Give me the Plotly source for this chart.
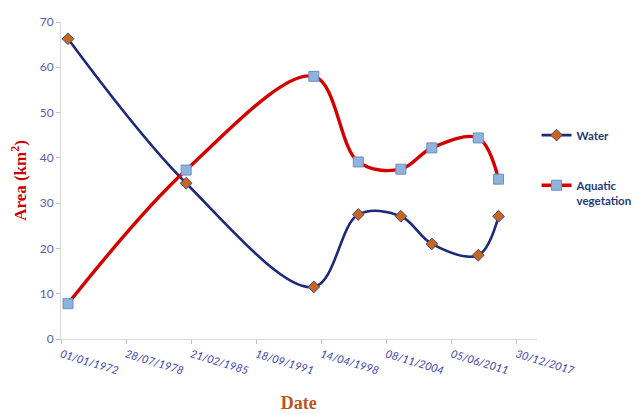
import plotly.graph_objects as go

dates = ["1972-09-15", "1984-08-20", "1997-07-10", "2002-01-05",
         "2006-04-25", "2009-06-10", "2014-02-15", "2016-03-05"]
water = [66.3, 34.4, 11.5, 27.5, 27.1, 21.0, 18.5, 27.1]
aquatic = [7.8, 37.3, 58.0, 39.1, 37.5, 42.2, 44.4, 35.3]

tick_start = "1972-01-01"
tick_step_days = 2400
x_end = "2020-01-05"

fig = go.Figure()
fig.add_trace(go.Scatter(
    x=dates, y=water, name="Water", mode="lines+markers",
    line=dict(color="#1c2a78", width=2.6, shape="spline", smoothing=1.0),
    marker=dict(symbol="diamond", size=9, color="#c9661c",
                line=dict(color="#3a4a8a", width=1)),
    legend="legend",
))
fig.add_trace(go.Scatter(
    x=dates, y=aquatic, name="Aquatic<br>vegetation", mode="lines+markers",
    line=dict(color="#d40000", width=3.4, shape="spline", smoothing=1.0),
    marker=dict(symbol="square", size=10, color="#8fb3dd",
                line=dict(color="#6d8fbf", width=1)),
    legend="legend2",
))

legfont = dict(family="Lato", size=11.5, color="#1f3a7a", weight="bold")
fig.update_layout(
    width=633, height=406,
    margin=dict(l=53, r=96, t=14, b=75),
    paper_bgcolor="white", plot_bgcolor="white",
    showlegend=True,
    legend=dict(xref="container", yref="container", x=0.835, y=0.687,
                xanchor="left", yanchor="middle",
                bgcolor="rgba(0,0,0,0)", font=legfont, itemwidth=30),
    legend2=dict(xref="container", yref="container", x=0.835, y=0.545,
                 xanchor="left", yanchor="middle", valign="top",
                 bgcolor="rgba(0,0,0,0)", font=legfont, itemwidth=30),
    xaxis=dict(
        type="date", automargin=False,
        range=[tick_start, x_end],
        tick0=tick_start, dtick=tick_step_days * 86400000,
        tickformat="%d/%m/%Y", tickangle=17,
        tickfont=dict(family="Lato", size=11, color="#4545b0", style="italic"),
        showline=True, linecolor="#d9d9d9", linewidth=1,
        ticks="outside", ticklen=4, tickcolor="#bfbfbf",
        showgrid=False, zeroline=False,
        title=dict(text="Date", standoff=20,
                   font=dict(family="Liberation Serif", size=18, color="#b8541c", weight="bold")),
    ),
    yaxis=dict(
        range=[0, 70], dtick=10, automargin=False,
        tickfont=dict(family="Lato", size=12, color="#5a5ab4"),
        showline=True, linecolor="#d9d9d9", linewidth=1,
        ticks="outside", ticklen=4, tickcolor="#bfbfbf",
        showgrid=False, zeroline=False,
        title=dict(text="Area (km<sup>2</sup>)", standoff=12,
                   font=dict(family="Liberation Serif", size=17, color="#cc0000", weight="bold")),
    ),
)

fig.write_html("out.html")
